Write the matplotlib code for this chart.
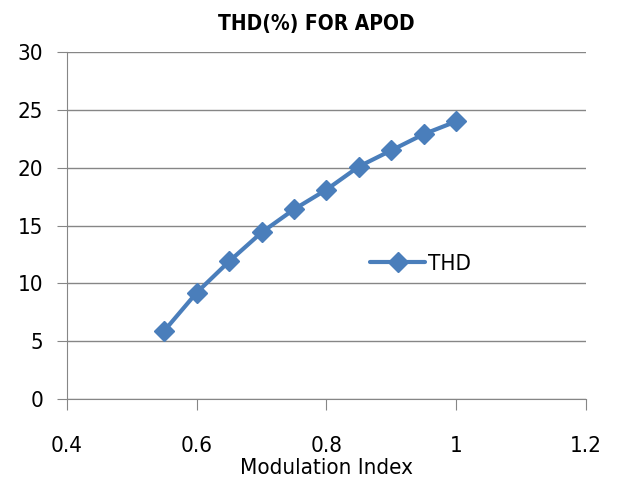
import matplotlib
matplotlib.use('Agg')
from matplotlib import pyplot as plt

plt.rcParams['font.family'] = ['DejaVu Sans']
plt.rcParams['font.stretch'] = 'condensed'

mod_index = [0.55, 0.6, 0.65, 0.7, 0.75, 0.8, 0.85, 0.9, 0.95, 1.0]
thd = [5.9, 9.2, 11.9, 14.4, 16.4, 18.1, 20.1, 21.5, 22.9, 24.0]

blue = '#4a7ebb'
grey = '#868686'

fig = plt.figure(figsize=(6.19, 4.87), dpi=100)
ax = fig.add_axes([0.1082, 0.1807, 0.8385, 0.7125])

ax.plot(mod_index, thd, '-', color=blue, lw=3, marker='D', ms=10,
        label='THD', solid_capstyle='round')

ax.set_xlim(0.4, 1.2)
ax.set_ylim(0, 30)
ax.set_xticks([0.4, 0.6, 0.8, 1.0, 1.2])
ax.set_xticklabels(['0.4', '0.6', '0.8', '1', '1.2'])
ax.set_yticks(range(0, 31, 5))

ax.yaxis.grid(True, color=grey, lw=1)
ax.set_axisbelow(True)
for s in ['top', 'right']:
    ax.spines[s].set_visible(False)
for s in ['left', 'bottom']:
    ax.spines[s].set_color(grey)
ax.tick_params(axis='x', direction='out', length=8, color=grey, pad=19, labelsize=16)
ax.tick_params(axis='y', direction='out', length=7, color=grey, pad=10, labelsize=16)

ax.set_title('THD(%) FOR APOD', fontsize=15, fontweight='bold', pad=16, x=0.48)
ax.set_xlabel('Modulation Index', fontsize=16, labelpad=1)

ax.legend(loc='center left', bbox_to_anchor=(0.545, 0.39), frameon=False,
          fontsize=16, handlelength=2.5, handletextpad=0.1)

plt.savefig('out.png', dpi=100)
